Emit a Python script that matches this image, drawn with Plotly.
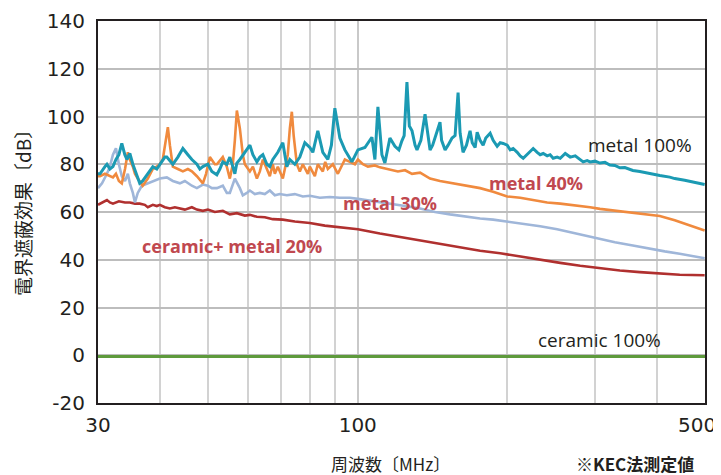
import math
import plotly.graph_objects as go

# ---------------- data ----------------
freq_m100 = [30.0, 30.28, 30.98, 31.27, 31.7, 32.15, 32.6, 33.05, 33.5, 33.97, 34.3, 34.77, 35.26, 35.6,
             36.07, 36.4, 36.9, 37.79, 38.68, 39.4, 39.96, 40.9, 41.27, 42.44, 43.44, 44.46, 45.5, 46.35,
             47.44, 48.1, 48.78, 49.92, 50.85, 52.04, 52.77, 53.5, 54.5, 55.27, 56.04, 56.57, 57.1, 57.9,
             59.25, 60.65, 61.5, 62.65, 63.52, 64.41, 65.62, 66.53, 67.46, 69.04, 70.66, 71.98, 73.0, 74.7,
             76.45, 78.25, 80.08, 81.2, 83.1, 85.05, 87.05, 88.5, 89.93, 92.04, 94.2, 95.53, 97.32, 100.07,
             103.37, 106.78, 108.27, 109.79, 111.84, 113.4, 116.07, 118.8, 121.0, 122.7, 124.0, 125.6, 127.0,
             128.6, 130.4, 131.6, 134.0, 136.6, 138.5, 139.8, 141.5, 143.1, 146.4, 147.5, 149.9, 152.0, 154.8,
             157.0, 159.2, 160.7, 162.9, 165.5, 168.3, 170.0, 172.3, 173.9, 176.3, 178.8, 181.0, 184.7, 187.3,
             190.8, 193.5, 196.2, 199.9, 202.7, 205.5, 209.4, 212.3, 215.3, 219.3, 222.4, 225.5, 229.7, 232.9,
             236.2, 240.6, 243.9, 247.4, 252.0, 255.6, 261.6, 267.7, 274.0, 280.4, 284.3, 289.6, 293.6, 300.3,
             307.3, 314.5, 321.8, 329.3, 337.0, 344.9, 357.9, 369.6, 378.3, 387.1, 396.2, 405.5, 424.6, 434.6,
             455.1, 465.8, 487.8, 499.2]
db_m100 = [76, 76, 79, 80, 78, 79, 82, 84, 88.7, 84, 82, 84.5, 80, 77.8,
           74, 72, 73, 76, 79, 78, 80, 83, 83, 80, 83, 86.6, 84, 82,
           80, 78, 79, 80, 77, 75.6, 78, 81, 80, 83, 79, 76, 80.5, 82,
           85, 88, 84, 81, 83, 84, 80, 79, 82, 85, 89, 79, 82, 80,
           83, 89, 87, 85, 94, 85, 82, 88, 103.5, 91, 86, 84, 81, 86,
           87, 91.3, 82, 104, 84, 80.5, 91, 87.5, 86, 89.8, 92, 114.4, 96,
           94, 88, 86, 90, 101, 92, 86, 88, 91, 97.6, 90, 86, 88, 91,
           92, 110, 93, 85, 88, 94, 89, 87, 93.4, 90, 88, 91, 93, 90,
           87.5, 89, 88.7, 88, 86, 86.6, 85, 83.5, 82.5, 84, 85.5, 86.6, 85, 84,
           84.5, 83.5, 84, 82.5, 83, 82.5, 84.5, 83, 83.5, 82, 81, 81.5, 81, 81.3,
           80.5, 80.8, 79.7, 79.5, 78.5, 78.6, 77.4, 77, 76.5, 76.3, 75.8, 75.3, 74.6, 74,
           73.3, 72.8, 72, 71.5]

freq_m40 = [30.0, 30.28, 30.98, 31.7, 32.15, 32.6, 33.05, 33.5, 34.0, 34.45, 34.77, 35.26, 35.6, 36.07,
            36.9, 37.79, 38.68, 39.4, 39.96, 40.5, 41.0, 41.47, 41.86, 42.44, 43.44, 44.46, 45.5, 46.35,
            47.44, 48.78, 49.5, 50.38, 51.56, 52.04, 53.5, 54.5, 55.27, 56.04, 56.57, 57.1, 57.9, 58.7,
            59.25, 60.65, 61.5, 62.65, 63.52, 64.41, 65.62, 66.53, 67.46, 68.09, 69.04, 70.66, 71.32, 72.3,
            73.0, 73.67, 74.3, 75.4, 76.45, 77.52, 79.35, 80.08, 81.96, 83.1, 85.05, 86.0, 87.05, 89.1,
            91.19, 93.33, 94.2, 96.42, 98.68, 100.07, 102.42, 104.82, 108.27, 110.8, 115.0, 120.46, 124.5,
            128.6, 133.5, 139.8, 146.4, 153.4, 160.7, 168.3, 176.3, 187.3, 199.9, 212.3, 225.5, 240.6,
            255.6, 274.0, 293.6, 307.3, 329.3, 353.0, 378.3, 405.5, 434.6, 465.8, 499.2]
db_m40 = [75, 75, 76, 75, 74.5, 76, 73, 72, 78, 85, 82, 79, 76, 74,
          71, 74, 78, 79, 80, 82, 90, 95.5, 88, 79, 78, 77, 78, 77,
          75, 72, 76, 83, 80, 80, 83, 79, 74, 80, 90, 102.5, 95, 84,
          80, 77, 79, 74, 77, 82, 78, 75, 80, 76, 79, 74, 78, 84,
          95, 102, 92, 80, 77, 80, 76, 79, 75, 80, 77, 81, 78, 80,
          76, 80, 82, 81, 80, 82, 80, 79, 79.5, 78.7, 78, 77, 77.5,
          76, 76.5, 74, 73, 72.3, 71.5, 70.8, 70, 68.5, 66.5, 66, 65, 64,
          63.5, 62.8, 62, 61.3, 60.5, 59.8, 59, 58.3, 56.5, 54.5, 52.2]

freq_m30 = [30.0, 30.56, 31.27, 31.7, 32.15, 32.6, 33.05, 33.5, 34.0, 34.45, 34.77, 35.26, 35.6, 36.07,
            36.75, 37.79, 38.68, 39.96, 41.27, 42.44, 43.85, 44.87, 46.35, 47.44, 48.78, 49.92, 50.85, 52.04,
            53.5, 54.5, 55.27, 56.04, 56.57, 57.9, 58.7, 59.8, 60.65, 62.06, 63.52, 65.0, 66.53, 68.09,
            69.68, 71.98, 74.7, 77.52, 80.08, 83.88, 87.86, 92.04, 96.42, 100.07, 108.27, 116.07, 124.5,
            133.5, 143.1, 153.4, 164.5, 176.3, 187.3, 199.9, 215.3, 232.9, 252.0, 274.0, 300.3, 329.3,
            357.9, 387.1, 414.9, 444.7, 476.6, 499.2]
db_m30 = [70, 72, 76, 79, 84, 86.7, 80, 75, 73, 76, 72, 68, 64, 68,
          71, 72, 73, 74, 74.5, 73, 72, 73, 71, 70, 71.5, 71, 70, 70,
          71, 68, 68, 72, 74, 70, 67, 68, 69, 67.5, 68, 67.5, 69, 67,
          67.5, 67, 67.5, 66.5, 66.8, 66, 66.3, 66, 66, 65.5, 64.5, 63.5, 62.5,
          61.5, 60, 59, 58, 57.3, 56.8, 56, 55, 54, 52.8, 51, 49, 47.3,
          46, 44.6, 43.5, 42.5, 41.3, 40.6]

freq_c20 = [30.0, 30.56, 31.27, 31.7, 32.15, 33.05, 34.0, 34.77, 35.6, 36.4, 37.27, 37.79, 38.68, 39.4,
            39.96, 40.9, 41.86, 42.84, 43.85, 44.87, 46.35, 47.44, 48.78, 49.92, 51.56, 53.5, 55.27, 57.1,
            59.25, 60.65, 62.65, 65.0, 67.46, 70.66, 74.7, 80.08, 85.84, 91.19, 100.07, 110.8, 121.6, 133.5,
            146.4, 160.7, 176.3, 193.5, 212.3, 232.9, 255.6, 280.4, 307.3, 337.0, 369.6, 405.5, 444.7, 499.2]
db_c20 = [63, 64, 65, 64, 63.5, 64.5, 64, 64, 63.5, 63.5, 63, 62, 63, 62.5,
          63, 62, 61.5, 62, 61.5, 61, 62, 61, 60.5, 61, 60, 60.5, 59, 59.5,
          58.5, 58.8, 58, 57.8, 57, 56.8, 56, 55.4, 54.3, 53.8, 52.8, 51, 49.5, 48,
          46.5, 45, 43.8, 42.7, 41.3, 40, 38.7, 37.5, 36.5, 35.5, 34.8, 34.2, 33.7, 33.5]

freq_c100 = [30.0, 100.0, 300.0, 500.0]
db_c100 = [-0.5, -0.5, -0.5, -0.5]

x_min, x_max = 30, 500
x_tickvals = [30, 100, 500]
x_ticktext = ["30", "100", ""]
x_last_label = "500"
x_minor_vals = [40, 50, 60, 70, 80, 90, 200, 300, 400]
y_tickvals = [-20, 0, 20, 40, 60, 80, 100, 120, 140]
y_ticktext = ["-20", "0", "20", "40", "60", "80", "100", "120", "140"]

labels = ["metal 100%", "metal 40%", "metal 30%", "ceramic+ metal 20%", "ceramic 100%"]

# ---------------- figure ----------------
fig = go.Figure()
series = [
    (freq_c100, db_c100, "#5e9a3c", 3),
    (freq_c20, db_c20, "#b0302f", 2.6),
    (freq_m30, db_m30, "#9fb6d9", 2.6),
    (freq_m40, db_m40, "#f08a3e", 2.6),
    (freq_m100, db_m100, "#1b9ab3", 3),
]
for fx, fy, col, w in series:
    fig.add_trace(go.Scatter(x=fx, y=fy, mode="lines", line=dict(color=col, width=w),
                             showlegend=False, hoverinfo="skip"))

# page body has an 8px margin, so the figure is laid out 8px smaller
OFF = 8
W, H = 721 - OFF, 475 - OFF
L, T = 98 - OFF, 21 - OFF
R, B = W - (705 - OFF), H - (403 - OFF)
pw, ph = W - L - R, H - T - B


def px(x):
    return (x - OFF - L) / pw


def py(y):
    return (H - B - (y - OFF)) / ph


tick_font = dict(family="DejaVu Sans", size=20, color="#231f20")
fig.update_layout(
    width=W, height=H,
    margin=dict(l=L, r=R, t=T, b=B),
    paper_bgcolor="white", plot_bgcolor="white",
    xaxis=dict(type="log", range=[math.log10(x_min) - 1e-5, math.log10(x_max) + 1e-5],
               tickvals=x_tickvals, ticktext=x_ticktext,
               showgrid=True, gridcolor="#c9c9c9", gridwidth=2,
               minor=dict(tickvals=x_minor_vals, showgrid=True, gridcolor="#d2d2d2", gridwidth=2, ticks=""),
               showline=True, linecolor="#231f20", linewidth=2, mirror=True,
               ticks="outside", ticklen=3, tickcolor="rgba(0,0,0,0)", tickfont=tick_font,
               zeroline=False, automargin=False),
    yaxis=dict(range=[-20, 140], tickvals=y_tickvals, ticktext=y_ticktext,
               showgrid=True, gridcolor="#bdbdbd", gridwidth=2,
               showline=True, linecolor="#231f20", linewidth=2, mirror=True,
               ticks="outside", ticklen=7, tickcolor="rgba(0,0,0,0)", tickfont=tick_font,
               zeroline=False, automargin=False),
)

# last x tick label, kept inside the picture like the reference
fig.add_annotation(text=x_last_label, x=px(718), y=py(425), xref="paper", yref="paper",
                   showarrow=False, font=tick_font, xanchor="right", yanchor="middle")

ann_font_n = dict(family="Open Sans", size=19, color="#231f20")
ann_font_b = dict(family="Open Sans", size=18, color="#c0484f")
anns = [
    (labels[0], 640, 145, ann_font_n, False),
    (labels[1], 536, 183, ann_font_b, True),
    (labels[2], 390, 203, ann_font_b, True),
    (labels[3], 232, 246, ann_font_b, True),
    (labels[4], 599, 340, ann_font_n, False),
]
for txt, ax_, ay_, f, bold in anns:
    fig.add_annotation(text=("<b>%s</b>" % txt) if bold else txt, x=px(ax_), y=py(ay_),
                       xref="paper", yref="paper", showarrow=False, font=f,
                       xanchor="center", yanchor="middle")

cjk = "Noto Sans CJK JP"
fig.add_annotation(text="電界遮蔽効果〔dB〕", x=px(22), y=py(208), xref="paper", yref="paper",
                   showarrow=False, textangle=-90, font=dict(family=cjk, size=19, color="#231f20"),
                   xanchor="center", yanchor="middle")
fig.add_annotation(text="周波数〔MHz〕", x=px(390), y=py(463), xref="paper", yref="paper",
                   showarrow=False, font=dict(family=cjk, size=17, color="#231f20"),
                   xanchor="center", yanchor="middle")
fig.add_annotation(text="<b>※KEC法測定値</b>", x=px(635), y=py(463), xref="paper", yref="paper",
                   showarrow=False, font=dict(family=cjk, size=17, color="#231f20"),
                   xanchor="center", yanchor="middle")

fig.write_html("out.html")
